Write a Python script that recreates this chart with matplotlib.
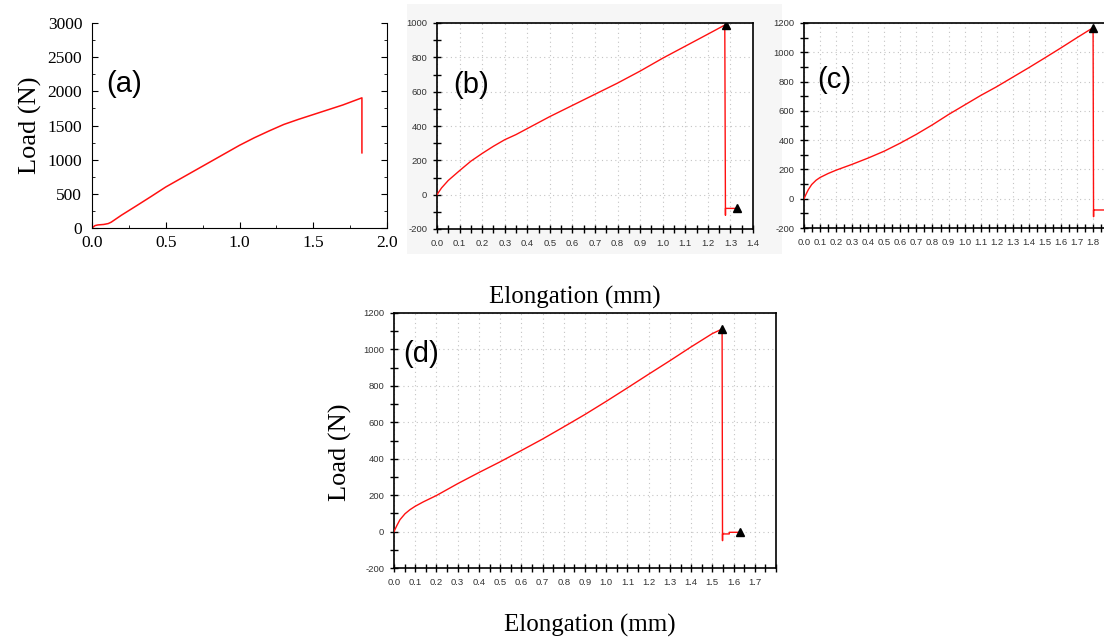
import matplotlib.pyplot as plt
from matplotlib.patches import Rectangle
from matplotlib.ticker import MultipleLocator

plt.rcParams['axes.unicode_minus'] = False

W, H = 1104, 642

# panel (a) load-elongation
a_x = [0, 0.02, 0.04, 0.08, 0.11, 0.13, 0.2, 0.3, 0.4, 0.5, 0.75, 1.0, 1.1, 1.2, 1.3, 1.4, 1.5, 1.6, 1.7, 1.83, 1.83]
a_y = [0, 35, 45, 52, 65, 85, 188, 323, 460, 600, 905, 1210, 1320, 1420, 1515, 1590, 1660, 1730, 1800, 1905, 1100]

# panel (b)
b_x = [0, 0.02, 0.05, 0.1, 0.15, 0.2, 0.25, 0.3, 0.35, 0.4, 0.5, 0.6, 0.7, 0.8, 0.9, 1.0, 1.1, 1.2, 1.275, 1.278, 1.278, 1.32]
b_y = [0, 39, 83, 140, 195, 240, 282, 320, 350, 385, 455, 520, 585, 650, 720, 795, 865, 935, 988, -120, -80, -80]
b_mark_x = [1.28, 1.33]
b_mark_y = [990, -80]

# panel (c)
c_x = [0, 0.0125, 0.027, 0.048, 0.075, 0.1, 0.15, 0.2, 0.3, 0.4, 0.5, 0.6, 0.7, 0.8, 0.9, 1.0, 1.1, 1.2, 1.3, 1.4, 1.5, 1.6, 1.7, 1.8, 1.803, 1.803, 1.87]
c_y = [0, 30, 62, 97, 126, 145, 172, 195, 235, 278, 325, 380, 440, 505, 575, 640, 705, 765, 830, 895, 962, 1030, 1100, 1168, -123, -77, -77]
c_mark_x = [1.8]
c_mark_y = [1168]

# panel (d)
d_x = [0, 0.0126, 0.028, 0.052, 0.075, 0.1, 0.138, 0.2, 0.3, 0.4, 0.5, 0.6, 0.7, 0.8, 0.9, 1.0, 1.1, 1.2, 1.3, 1.4, 1.5, 1.546, 1.548, 1.548, 1.58, 1.58, 1.62]
d_y = [0, 31, 65, 98, 120, 139, 163, 198, 263, 324, 383, 445, 508, 575, 643, 715, 789, 864, 938, 1014, 1087, 1112, -50, -13, -13, -4, -4]
d_mark_x = [1.546, 1.63]
d_mark_y = [1110, -5]

RED = '#ff1010'


def rect(x0, x1, y0, y1):
    return [x0 / W, 1 - y1 / H, (x1 - x0) / W, (y1 - y0) / H]


fig = plt.figure(figsize=(W / 100, H / 100), dpi=100)

# light grey background of the (b) screenshot
fig.patches.append(Rectangle((407 / W, 1 - 254 / H), (782 - 407) / W, (254 - 4) / H,
                             transform=fig.transFigure, facecolor='#f6f6f6',
                             edgecolor='none', zorder=-1))

# ---- (a) ----
ax = fig.add_axes(rect(92, 387, 23, 228))
ax.plot(a_x, a_y, color=RED, lw=1.1)
ax.set_xlim(0, 2.0)
ax.set_ylim(0, 3000)
ax.xaxis.set_major_locator(MultipleLocator(0.5))
ax.xaxis.set_minor_locator(MultipleLocator(0.25))
ax.yaxis.set_major_locator(MultipleLocator(500))
ax.yaxis.set_minor_locator(MultipleLocator(250))
ax.xaxis.set_major_formatter(plt.FuncFormatter(lambda v, p: f'{v:.1f}'))
ax.spines['top'].set_visible(False)
ax.tick_params(which='both', direction='in', right=True, top=False)
ax.tick_params(which='major', length=4, labelsize=12.5)
ax.tick_params(which='minor', length=2)
ax.tick_params(axis='y', pad=7)
ax.tick_params(axis='x', pad=5)
for lb in ax.get_xticklabels() + ax.get_yticklabels():
    lb.set_fontfamily('Liberation Serif')
ax.set_ylabel('Load (N)', fontsize=19, family='Liberation Serif', labelpad=4)
ax.text(0.05, 0.70, '(a)', transform=ax.transAxes, fontsize=21,
        family='Liberation Sans', va='center')


def style_machine(ax, xmax, xlab_max, ymin, ymax):
    ax.set_xlim(0, xmax)
    ax.set_ylim(ymin, ymax)
    ax.set_xticks([i / 10 for i in range(int(round(xlab_max * 10)) + 1)])
    ax.xaxis.set_minor_locator(MultipleLocator(0.05))
    ax.yaxis.set_major_locator(MultipleLocator(200))
    ax.yaxis.set_minor_locator(MultipleLocator(100))
    ax.xaxis.set_major_formatter(plt.FuncFormatter(lambda v, p: f'{v:.1f}'))
    ax.grid(True, which='major', color='#c4c4c4', lw=0.8, linestyle=(0, (1, 3)))
    ax.tick_params(which='both', direction='inout', length=6, width=1,
                   colors='black', labelcolor='#333333', labelsize=6.8, pad=4)
    for lb in ax.get_xticklabels() + ax.get_yticklabels():
        lb.set_fontfamily('Liberation Sans')
    for s in ax.spines.values():
        s.set_linewidth(1.2)
    ax.set_axisbelow(True)


# ---- (b) ----
ax = fig.add_axes(rect(437, 753, 23, 229))
ax.plot(b_x, b_y, color=RED, lw=1.0, zorder=3)
ax.plot(b_mark_x, b_mark_y, '^', color='black', ms=6, zorder=4)
style_machine(ax, 1.4, 1.4, -200, 1000)
ax.text(0.05, 0.70, '(b)', transform=ax.transAxes, fontsize=21,
        family='Liberation Sans', va='center')

# ---- (c) ----
ax = fig.add_axes(rect(804, 1104, 23, 228))
ax.plot(c_x, c_y, color=RED, lw=1.0, zorder=3)
ax.plot(c_mark_x, c_mark_y, '^', color='black', ms=6, zorder=4)
style_machine(ax, 1.868, 1.8, -200, 1200)
ax.spines['right'].set_visible(False)
ax.text(0.045, 0.72, '(c)', transform=ax.transAxes, fontsize=21,
        family='Liberation Sans', va='center')

fig.text(575 / W, 1 - 297 / H, 'Elongation (mm)', ha='center', va='center',
         fontsize=18, family='Liberation Serif')

# ---- (d) ----
ax = fig.add_axes(rect(394, 776, 313, 568))
ax.plot(d_x, d_y, color=RED, lw=1.0, zorder=3)
ax.plot(d_mark_x, d_mark_y, '^', color='black', ms=6, zorder=4)
style_machine(ax, 1.8, 1.7, -200, 1200)
ax.text(0.025, 0.84, '(d)', transform=ax.transAxes, fontsize=21,
        family='Liberation Sans', va='center')
fig.text(340 / W, 1 - 452 / H, 'Load (N)', rotation=90, ha='center', va='center',
         fontsize=19, family='Liberation Serif')
fig.text(590 / W, 1 - 625 / H, 'Elongation (mm)', ha='center', va='center',
         fontsize=18, family='Liberation Serif')

fig.savefig('out.png', dpi=100)
